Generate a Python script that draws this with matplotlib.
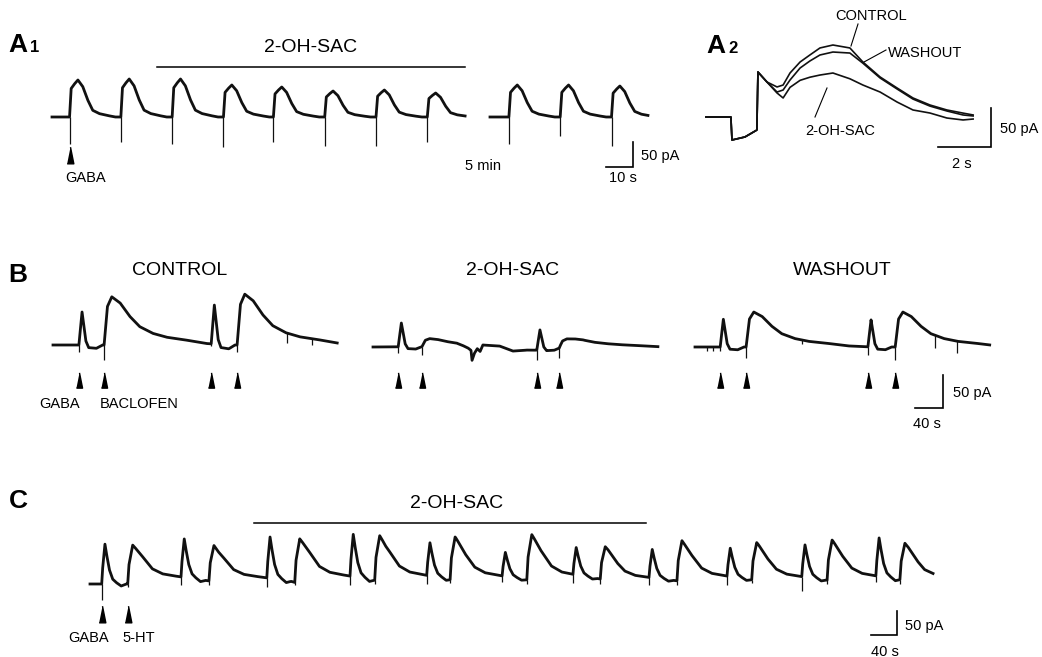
"""Whole-cell currents: GABA, baclofen and 5-HT responses with 2-OH-SAC."""
import numpy as np
import matplotlib
matplotlib.use("Agg")
import matplotlib.pyplot as plt
from matplotlib.lines import Line2D

plt.rcParams["font.family"] = ["Liberation Sans", "DejaVu Sans"]

W, H = 1042, 657

# === A1: repeated GABA pulses (time s, current pA) ===
a1_onsets = [6.5, 25.5, 44.5, 63.5, 82.0, 101.0, 120.0, 139.0]
a1_amps = [74, 76, 76, 64, 60, 52, 54, 48]
a1_artifacts = [53, 50, 53, 60, 50, 57, 57, 50]
a1_end = 153.0
a1_drug = [39.0, 153.0]
# after 5 min washout
a1_wash_onsets = [7.0, 26.0, 45.0]
a1_wash_amps = [64, 64, 62]
a1_wash_artifacts = [53, 37, 57]
a1_wash_end = 58.5
# GABA current shape: s after pulse, fraction of peak
a1_shape_t = [0, 0.6, 1.9, 3.1, 4.9, 6.8, 8.6, 11.1, 14.8, 17.0]
a1_shape_f = [0, 0.77, 0.90, 1.0, 0.82, 0.45, 0.18, 0.09, 0.03, 0]

# === A2: superimposed single responses ===
a2_t = [0, 0.94, 0.98, 1.47, 1.92, 1.96, 2.30, 2.68, 2.91, 3.17, 3.55, 3.92,
        4.30, 4.79, 5.43, 5.92, 6.57, 7.21, 7.81, 8.45, 9.09, 9.70, 10.08]
a2_control = [0, 0, -29.5, -25.6, -16.7, 57.7, 44.9, 38.5, 41.0, 56.4, 70.5, 79.5,
              88.5, 92.3, 88.5, 70.5, 51.3, 37.2, 24.4, 15.4, 9.0, 5.0, 2.6]
a2_washout = [0, 0, -29.5, -25.6, -16.7, 57.7, 44.9, 32.0, 34.6, 47.4, 62.8, 71.8,
              79.5, 83.3, 82.0, 69.0, 50.0, 35.9, 23.0, 14.0, 7.7, 2.6, 1.3]
a2_drug = [0, 0, -29.5, -25.6, -16.7, 57.7, 44.9, 30.8, 24.4, 38.0, 47.0, 51.0,
           53.8, 56.4, 49.0, 41.0, 32.0, 19.2, 9.0, 5.1, -1.3, -3.8, -2.6]

# === B: GABA / baclofen pairs ===
b_gaba_t = [0, 2, 4.5, 7, 10, 14, 25, 34]
b_gaba_f = [0, 0.45, 1.0, 0.6, 0.12, -0.08, -0.1, 0]
b_bac_t = [0, 4.8, 11, 23, 37, 51, 70, 90, 118, 147, 180]
b_bac_f = [0, 0.8, 1.0, 0.87, 0.59, 0.38, 0.24, 0.16, 0.10, 0.03, 0]

b_ctrl_gaba = [37, 226]
b_ctrl_gaba_amp = [50, 59]
b_ctrl_bac = [73, 263]
b_ctrl_bac_amp = [73, 77]
b_ctrl_spike_t = [37, 73, 226, 263, 334, 370]
b_ctrl_spike_d = [10, 23, 4, 10, 15, 9]
b_ctrl_end = 406

b_drug_gaba = [36, 234]
b_drug_gaba_amp = [36, 30]
b_drug_bac = [70, 266]
b_drug_bac_amp = [12, 12]
b_drug_spike_t = [36, 70, 234, 266]
b_drug_spike_d = [10, 12, 15, 15]
b_drug_drift_t = [0, 120, 129, 136, 140, 141.5, 145, 149, 153, 157, 181, 200, 220, 232, 300, 407]
b_drug_drift_i = [0, 1, -2, -5, -8, -23, -12, -5, -9, 1, 0, -7, -5, -5, 3, 0]
b_drug_end = 407

b_wash_gaba = [36, 247]
b_wash_gaba_amp = [42, 41]
b_wash_bac = [73, 286]
b_wash_bac_amp = [53, 53]
b_wash_spike_t = [17, 26, 36, 73, 153, 247, 286, 343, 374]
b_wash_spike_d = [6, 6, 6, 17, 6, 12, 20, 20, 18]
b_wash_end = 421

# === C: GABA / 5-HT pairs ===
c_gaba = [18, 140, 272, 400, 518, 634, 743, 860, 980, 1095, 1209]
c_gaba_amp = [83, 80, 86, 88, 69, 50, 57, 59, 59, 67, 80]
c_gaba_art = [33, 17, 19, 19, 19, 12, 19, 15, 19, 29, 12]
c_ht = [58, 183, 315, 438, 554, 672, 785, 903, 1018, 1134, 1246]
c_ht_amp = [81, 77, 94, 96, 90, 96, 69, 85, 79, 85, 77]
c_ht_art = [6, 8, 6, 8, 6, 8, 10, 8, 6, 8, 8]
c_end = 1297
c_drug = [252, 855]
c_gaba_t = [0, 1.5, 5, 8, 12, 17, 23, 30, 38]
c_gaba_f = [0, 0.4, 1.0, 0.7, 0.35, 0.12, 0.03, -0.05, 0]
c_ht_t = [0, 2, 7.7, 12, 23, 38, 54, 75, 100, 125, 140]
c_ht_f = [0, 0.5, 1.0, 0.92, 0.7, 0.39, 0.26, 0.2, 0.14, 0.08, 0]


fig = plt.figure(figsize=(W / 100, H / 100), dpi=100)


def panel(x0, y0, sx, sy):
    """Full-figure transparent axes, data origin at pixel (x0, y0), sx px/s, sy px/pA."""
    ax = fig.add_axes([0, 0, 1, 1])
    ax.set_xlim(-x0 / sx, (W - x0) / sx)
    ax.set_ylim(-(H - y0) / sy, y0 / sy)
    ax.set_axis_off()
    ax.patch.set_alpha(0)
    return ax, (lambda xp: (xp - x0) / sx), (lambda yp: (y0 - yp) / sy)


def trace(t_end, events, drift=None):
    # events: (onset, amplitude, shape_t, shape_f)
    knots = [0.0, t_end]
    for onset, amp, st, sf in events:
        knots += [onset + s for s in st]
    if drift is not None:
        knots += list(drift[0])
    t = np.unique(np.clip(knots, 0, t_end))
    y = np.zeros_like(t)
    for onset, amp, st, sf in events:
        y += amp * np.interp(t, onset + np.asarray(st, float), sf, left=0, right=0)
    if drift is not None:
        y += np.interp(t, drift[0], drift[1])
    return t, y


def draw_trace(ax, t, y, spike_t=(), spike_d=()):
    ax.plot(t, y, color="#111111", lw=2.0, solid_joinstyle="round")
    # stimulus artifacts and brief transients: thin downward deflections
    if len(spike_t):
        y0 = np.interp(spike_t, t, y)
        ax.vlines(spike_t, y0, y0 - np.asarray(spike_d), color="#111111", lw=0.9)


def scalebar(ax, fx, fy, xc, yc, dx, dy):
    x, y = fx(xc), fy(yc)
    ax.plot([x - dx, x, x], [y, y, y + dy], color="k", lw=1.2, solid_joinstyle="miter")


def label(x, y, s, size=10.5, ha="left", **kw):
    fig.text(x / W, 1 - y / H, s, fontsize=size, ha=ha, va="baseline", **kw)


def panel_letter(x, y, letter, sub=None):
    label(x, y, letter, size=19, weight="bold")
    if sub:
        label(x + 22, y, sub, size=12, weight="bold")


def pointer(x1, y1, x2, y2):
    fig.add_artist(Line2D([x1 / W, x2 / W], [1 - y1 / H, 1 - y2 / H],
                          transform=fig.transFigure, color="k", lw=0.8))


tri = [(-0.4, -1), (0.4, -1), (0, 1)]

# ---------- A1 ----------
ax, fx, fy = panel(52, 117, 2.7, 0.5)
ev = [(o, a, a1_shape_t, a1_shape_f) for o, a in zip(a1_onsets, a1_amps)]
t, y = trace(a1_end, ev)
draw_trace(ax, t, y, a1_onsets, a1_artifacts)
ax.plot(a1_drug, [fy(67)] * 2, color="k", lw=1.1)
ax.plot(a1_onsets[:1], [fy(155)], linestyle="none", marker=tri, markersize=12, color="k")

ax, fx, fy = panel(490, 117, 2.7, 0.5)
ev = [(o, a, a1_shape_t, a1_shape_f) for o, a in zip(a1_wash_onsets, a1_wash_amps)]
t, y = trace(a1_wash_end, ev)
draw_trace(ax, t, y, a1_wash_onsets, a1_wash_artifacts)
scalebar(ax, fx, fy, 633, 167, 10, 50)

panel_letter(8, 52, "A", "1")
label(311, 52, "2-OH-SAC", size=14, ha="center")
label(86, 182, "GABA", ha="center")
label(465, 170, "5 min")
label(641, 160, "50 pA")
label(609, 182, "10 s")

# ---------- A2 ----------
ax, fx, fy = panel(706, 117, 26.5, 0.78)
for cur in (a2_washout, a2_drug, a2_control):
    ax.plot(a2_t, cur, color="#111111", lw=1.2)
scalebar(ax, fx, fy, 991, 147, 2, 50)

panel_letter(706, 53, "A", "2")
label(835, 20, "CONTROL")
label(888, 57, "WASHOUT")
label(805, 135, "2-OH-SAC")
label(1000, 133, "50 pA")
label(962, 168, "2 s", ha="center")
pointer(858, 24, 851, 46)
pointer(886, 50, 864, 62)
pointer(815, 117, 827, 88)

# ---------- B ----------
for x0, y0, gab, gab_a, bac, bac_a, sp_t, sp_d, drift, t_end in [
        (53, 345, b_ctrl_gaba, b_ctrl_gaba_amp, b_ctrl_bac, b_ctrl_bac_amp,
         b_ctrl_spike_t, b_ctrl_spike_d, None, b_ctrl_end),
        (373, 347, b_drug_gaba, b_drug_gaba_amp, b_drug_bac, b_drug_bac_amp,
         b_drug_spike_t, b_drug_spike_d, (b_drug_drift_t, b_drug_drift_i), b_drug_end),
        (695, 347, b_wash_gaba, b_wash_gaba_amp, b_wash_bac, b_wash_bac_amp,
         b_wash_spike_t, b_wash_spike_d, None, b_wash_end)]:
    ax, fx, fy = panel(x0, y0, 0.7, 0.66)
    ev = [(o, a, b_gaba_t, b_gaba_f) for o, a in zip(gab, gab_a)]
    ev += [(o, a, b_bac_t, b_bac_f) for o, a in zip(bac, bac_a)]
    t, y = trace(t_end, ev, drift=drift)
    draw_trace(ax, t, y, sp_t, sp_d)
    marks = sorted(gab + bac)
    ax.plot(marks, [fy(379.5)] * len(marks), linestyle="none", marker=tri,
            markersize=11, color="k")
scalebar(ax, fx, fy, 943, 408, 40, 50)

panel_letter(8, 282, "B")
label(180, 275, "CONTROL", size=14, ha="center")
label(513, 275, "2-OH-SAC", size=14, ha="center")
label(842, 275, "WASHOUT", size=14, ha="center")
label(60, 408, "GABA", ha="center")
label(100, 408, "BACLOFEN")
label(953, 397, "50 pA")
label(913, 428, "40 s")

# ---------- C ----------
ax, fx, fy = panel(90, 584, 0.65, 0.48)
ev = [(o, a, c_gaba_t, c_gaba_f) for o, a in zip(c_gaba, c_gaba_amp)]
ev += [(o, a, c_ht_t, c_ht_f) for o, a in zip(c_ht, c_ht_amp)]
t, y = trace(c_end, ev)
draw_trace(ax, t, y, c_gaba + c_ht, c_gaba_art + c_ht_art)
ax.plot(c_drug, [fy(523)] * 2, color="k", lw=1.1)
ax.plot([c_gaba[0], c_ht[0]], [fy(613.5)] * 2, linestyle="none", marker=tri,
        markersize=12, color="k")
scalebar(ax, fx, fy, 897, 635, 40, 50)

panel_letter(9, 508, "C")
label(457, 508, "2-OH-SAC", size=14, ha="center")
label(89, 642, "GABA", ha="center")
label(122, 642, "5-HT")
label(905, 630, "50 pA")
label(871, 656, "40 s")

fig.savefig("out.png", dpi=100)
plt.close("all")
